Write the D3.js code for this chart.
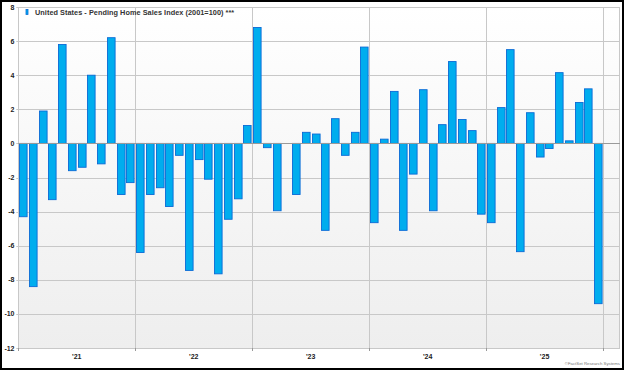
<!DOCTYPE html>
<html><head><meta charset="utf-8">
<script src="https://cdn.jsdelivr.net/npm/d3@7"></script>
<style>
html,body{margin:0;padding:0;background:#fff;}
svg{display:block;}
text{font-family:"Liberation Sans",Arial,sans-serif;}
</style></head>
<body><svg id="c" width="624" height="370"></svg>
<script>
const seriesName = "United States - Pending Home Sales Index (2001=100) ***";
const yearLabels = ["'21","'22","'23","'24","'25"];
const yTicks = [8,6,4,2,0,-2,-4,-6,-8,-10,-12];
// Monthly % change, Jan 2021 .. Dec 2025
const values = [
 -4.3,-8.4,1.9,-3.3,5.8,-1.6,-1.4,4.0,-1.2,6.2,-3.0,-2.3,
 -6.4,-3.0,-2.6,-3.7,-0.7,-7.45,-0.95,-2.1,-7.65,-4.45,-3.25,1.05,
 6.8,-0.25,-3.95,0,-3.0,0.65,0.55,-5.1,1.45,-0.7,0.65,5.65,
 -4.65,0.25,3.05,-5.1,-1.8,3.15,-3.95,1.1,4.8,1.4,0.75,-4.15,
 -4.65,2.1,5.5,-6.35,1.8,-0.8,-0.3,4.15,0.15,2.4,3.2,-9.4
];
const copyright = "©FactSet Research Systems";

const svg = d3.select("#c");
const L = 18.3, R = 620, T = 7, B = 348;
const x = d3.scaleLinear().domain([0, 61.74]).range([L, R]);
const y = d3.scaleLinear().domain([-12, 8]).range([B, T]);

// frame
svg.append("rect").attr("x",1).attr("y",1).attr("width",622).attr("height",368)
  .attr("fill","#fff").attr("stroke","#000").attr("stroke-width",2);

const defs = svg.append("defs");
const g = defs.append("linearGradient").attr("id","bg").attr("x1",0).attr("y1",0).attr("x2",0).attr("y2",1);
g.append("stop").attr("offset","0%").attr("stop-color","#ffffff");
g.append("stop").attr("offset","100%").attr("stop-color","#eeeeee");

svg.append("rect").attr("x",L).attr("y",T).attr("width",R-L).attr("height",B-T).attr("fill","url(#bg)");

// horizontal grid
svg.append("g").selectAll("line").data(yTicks).join("line")
  .attr("x1",L-2).attr("x2",R).attr("y1",d=>Math.round(y(d))+0.5).attr("y2",d=>Math.round(y(d))+0.5)
  .attr("stroke","#c8c8c8").attr("stroke-width",1);

// vertical grid at year boundaries
const yearStarts = yearLabels.map((d,i)=>i*12);
svg.append("g").selectAll("line").data(yearStarts.slice(1).concat([60])).join("line")
  .attr("x1",d=>Math.round(x(d))+0.5).attr("x2",d=>Math.round(x(d))+0.5).attr("y1",T).attr("y2",B)
  .attr("stroke","#c8c8c8").attr("stroke-width",1);

// plot border
svg.append("rect").attr("x",Math.round(L)+0.5).attr("y",T+0.5).attr("width",R-Math.round(L)-1).attr("height",B-T)
  .attr("fill","none").attr("stroke","#c8c8c8");

// bars
svg.append("g").selectAll("rect").data(values).join("rect")
  .attr("x",(d,i)=>Math.round(x(i)+0.9)+0.5)
  .attr("width",7.6)
  .attr("y",d=>Math.min(y(d),y(0)))
  .attr("height",d=>Math.abs(y(d)-y(0)))
  .attr("fill","#00adee").attr("stroke","#0a6ad6").attr("stroke-width",0.9)
  .attr("display",d=>d===0?"none":null);

// zero line
svg.append("line").attr("x1",L).attr("x2",R).attr("y1",Math.round(y(0))+0.5).attr("y2",Math.round(y(0))+0.5)
  .attr("stroke","#9a9a9a").attr("stroke-width",1);

// y labels
svg.append("g").selectAll("text").data(yTicks).join("text")
  .attr("x",14.5).attr("y",d=>y(d)+2.5).attr("text-anchor","end")
  .attr("font-size","7px").attr("font-weight","bold").attr("fill","#222")
  .text(d=>d);

// x ticks
svg.append("g").selectAll("line").data(yearStarts.concat([60])).join("line")
  .attr("x1",d=>Math.round(x(d))+0.5).attr("x2",d=>Math.round(x(d))+0.5).attr("y1",B).attr("y2",B+3)
  .attr("stroke","#999");

// x labels
svg.append("g").selectAll("text").data(yearLabels).join("text")
  .attr("x",(d,i)=>x(i*12+6)).attr("y",B+10.5).attr("text-anchor","middle")
  .attr("font-size","7px").attr("font-weight","bold").attr("fill","#222")
  .text(d=>d);

// legend
svg.append("rect").attr("x",26).attr("y",9.5).attr("width",2).attr("height",5)
  .attr("fill","#00adee").attr("stroke","#0a6ad6").attr("stroke-width",0.8);
svg.append("text").attr("x",35).attr("y",14.5).attr("font-size","7.3px").attr("font-weight","bold")
  .attr("fill","#333").attr("letter-spacing","0.05px").text(seriesName);

// copyright
svg.append("text").attr("x",620).attr("y",364.5).attr("text-anchor","end")
  .attr("font-size","4.3px").attr("fill","#777").text(copyright);
</script></body></html>
